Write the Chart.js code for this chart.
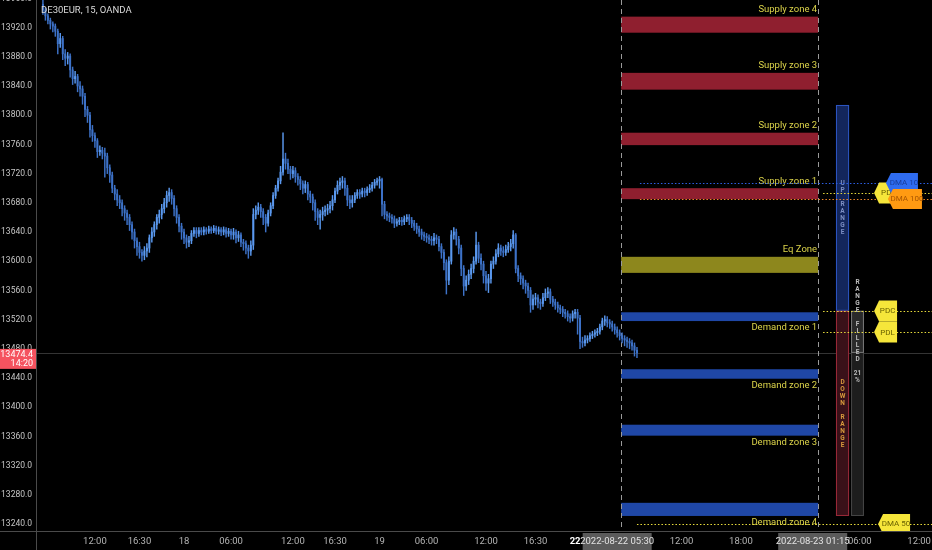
<!DOCTYPE html>
<html>
<head>
<meta charset="utf-8">
<script src="https://cdn.jsdelivr.net/npm/chart.js@4.4.1/dist/chart.umd.min.js"></script>
<style>
  html, body { margin: 0; padding: 0; background: #000; }
  #wrap { width: 932px; height: 550px; position: relative; }
</style>
</head>
<body>
<div id="wrap"><canvas id="chart"></canvas></div>
<script>
// DE30EUR 15m candles, bar index 0 = 2022-08-18 session open (01:15)
const firstBar = -57;

const opens = [
  13952,13944,13936,13930,13925,13922,13915,13898,13905,13884,
  13878,13881,13862,13850,13853,13840,13836,13826,13808,13800,
  13780,13772,13765,13750,13752,13748,13744,13728,13718,13700,
  13692,13684,13680,13672,13666,13660,13650,13640,13628,13620,
  13612,13608,13614,13618,13632,13640,13650,13660,13664,13672,
  13680,13690,13694,13686,13672,13660,13648,13640,13632,13626,
  13628,13638,13642,13638,13642,13640,13643,13641,13644,13642,
  13645,13641,13643,13640,13643,13638,13641,13636,13640,13632,
  13636,13626,13624,13618,13614,13622,13664,13670,13674,13668,
  13660,13652,13666,13676,13690,13700,13710,13722,13740,13734,
  13726,13720,13724,13716,13712,13706,13700,13705,13692,13688,
  13680,13668,13660,13664,13668,13670,13672,13676,13684,13696,
  13704,13708,13710,13700,13684,13680,13684,13690,13694,13692,
  13696,13694,13698,13700,13704,13708,13710,13712,13678,13664,
  13662,13660,13658,13652,13654,13656,13654,13658,13660,13656,
  13652,13648,13644,13640,13636,13634,13632,13630,13628,13632,
  13630,13620,13612,13598,13574,13600,13636,13640,13630,13618,
  13590,13566,13574,13582,13590,13600,13622,13604,13596,13580,
  13570,13576,13596,13600,13610,13618,13614,13612,13616,13620,
  13624,13636,13590,13580,13576,13570,13566,13560,13540,13548,
  13550,13544,13542,13550,13556,13558,13548,13544,13540,13536,
  13534,13530,13528,13524,13522,13528,13530,13522,13490,13488,
  13492,13494,13498,13500,13502,13504,13510,13518,13520,13516,
  13514,13510,13506,13502,13498,13494,13492,13490,13488,13484,
  13478
];
const highs = [
  13958,13947,13939,13933,13928,13925,13918,13912,13908,13890,
  13886,13884,13866,13860,13856,13846,13840,13830,13812,13804,
  13786,13776,13768,13758,13756,13755,13748,13732,13722,13704,
  13698,13690,13684,13676,13670,13664,13654,13644,13632,13626,
  13616,13620,13624,13636,13646,13654,13664,13670,13678,13686,
  13696,13700,13698,13690,13676,13664,13652,13644,13636,13634,
  13642,13646,13646,13646,13646,13647,13646,13648,13647,13649,
  13648,13647,13646,13647,13646,13645,13644,13645,13643,13641,
  13639,13630,13628,13622,13628,13672,13676,13680,13678,13672,
  13664,13670,13680,13694,13704,13714,13730,13776,13748,13740,
  13730,13730,13728,13720,13716,13710,13710,13708,13696,13692,
  13684,13672,13670,13674,13676,13678,13682,13690,13700,13710,
  13714,13716,13714,13704,13690,13690,13694,13698,13698,13700,
  13700,13702,13705,13708,13712,13714,13716,13714,13682,13668,
  13666,13664,13662,13658,13660,13660,13662,13664,13664,13660,
  13656,13652,13648,13644,13640,13638,13636,13634,13638,13636,
  13634,13624,13616,13602,13606,13642,13646,13644,13634,13622,
  13594,13580,13588,13596,13606,13640,13626,13610,13600,13586,
  13582,13600,13606,13616,13624,13622,13620,13622,13626,13630,
  13642,13638,13594,13584,13580,13574,13570,13564,13554,13556,
  13554,13548,13556,13562,13564,13562,13552,13548,13544,13540,
  13538,13534,13532,13528,13532,13534,13534,13526,13496,13498,
  13498,13502,13504,13506,13508,13514,13522,13525,13524,13520,
  13518,13514,13510,13506,13502,13498,13496,13494,13492,13488,
  13482
];
const lows = [
  13938,13930,13925,13918,13914,13908,13884,13893,13876,13868,
  13870,13852,13842,13844,13832,13826,13815,13798,13790,13770,
  13764,13756,13742,13745,13740,13715,13720,13708,13694,13684,
  13676,13672,13662,13656,13650,13642,13630,13618,13608,13604,
  13600,13602,13606,13612,13626,13634,13644,13652,13658,13666,
  13674,13682,13678,13662,13652,13640,13630,13624,13618,13620,
  13624,13634,13632,13634,13636,13636,13637,13638,13638,13639,
  13637,13637,13635,13636,13633,13634,13630,13630,13625,13627,
  13620,13615,13610,13604,13608,13616,13658,13664,13660,13650,
  13640,13648,13662,13672,13686,13696,13706,13718,13726,13720,
  13712,13714,13708,13704,13698,13692,13694,13684,13680,13670,
  13656,13650,13644,13656,13662,13664,13666,13670,13680,13692,
  13698,13700,13690,13676,13672,13674,13680,13686,13686,13688,
  13688,13690,13694,13696,13700,13704,13700,13662,13658,13656,
  13654,13652,13646,13648,13650,13649,13650,13654,13650,13646,
  13642,13638,13634,13630,13628,13626,13624,13622,13622,13624,
  13614,13604,13588,13555,13568,13596,13630,13622,13610,13580,
  13553,13560,13568,13576,13584,13596,13598,13588,13570,13560,
  13557,13570,13590,13596,13606,13608,13606,13608,13612,13614,
  13618,13584,13572,13568,13562,13556,13550,13530,13534,13540,
  13536,13534,13538,13546,13550,13542,13538,13534,13530,13528,
  13524,13522,13518,13516,13518,13522,13500,13480,13482,13484,
  13488,13490,13494,13496,13498,13500,13506,13512,13510,13508,
  13504,13500,13496,13492,13488,13484,13482,13480,13478,13470,
  13468
];
const closes = [
  13944,13936,13930,13925,13922,13915,13898,13905,13884,13878,
  13881,13862,13850,13853,13840,13836,13826,13808,13800,13780,
  13772,13765,13750,13752,13748,13744,13728,13718,13700,13692,
  13684,13680,13672,13666,13660,13650,13640,13628,13620,13612,
  13608,13614,13618,13632,13640,13650,13660,13664,13672,13680,
  13690,13694,13686,13672,13660,13648,13640,13632,13626,13628,
  13638,13642,13638,13642,13640,13643,13641,13644,13642,13645,
  13641,13643,13640,13643,13638,13641,13636,13640,13632,13636,
  13626,13624,13618,13614,13622,13664,13670,13674,13668,13660,
  13652,13666,13676,13690,13700,13710,13722,13740,13734,13726,
  13720,13724,13716,13712,13706,13700,13705,13692,13688,13680,
  13668,13660,13664,13668,13670,13672,13676,13684,13696,13704,
  13708,13710,13700,13684,13680,13684,13690,13694,13692,13696,
  13694,13698,13700,13704,13708,13710,13712,13678,13664,13662,
  13660,13658,13652,13654,13656,13654,13658,13660,13656,13652,
  13648,13644,13640,13636,13634,13632,13630,13628,13632,13630,
  13620,13612,13598,13574,13600,13636,13640,13630,13618,13590,
  13566,13574,13582,13590,13600,13622,13604,13596,13580,13570,
  13576,13596,13600,13610,13618,13614,13612,13616,13620,13624,
  13636,13590,13580,13576,13570,13566,13560,13540,13548,13550,
  13544,13542,13550,13556,13558,13548,13544,13540,13536,13534,
  13530,13528,13524,13522,13528,13530,13522,13490,13488,13492,
  13494,13498,13500,13502,13504,13510,13518,13520,13516,13514,
  13510,13506,13502,13498,13494,13492,13490,13488,13484,13478,
  13474.4
];
const lastPrice = 13474.4;
const countdown = '14:20';

// axes
const yTicks = [13240, 13280, 13320, 13360, 13400, 13440, 13480, 13520, 13560, 13600,
  13640, 13680, 13720, 13760, 13800, 13840, 13880, 13920, 13960];
const xTickBars = [-36, -18, 0, 19, 44, 61, 79, 98, 122, 142, 158, 201, 225, 273, 297];
const xTickLabels = ['12:00', '16:30', '18', '06:00', '12:00', '16:30', '19', '06:00', '12:00', '16:30', '22', '12:00', '18:00', '06:00', '12:00'];
const dateBars = [175, 254];
const dateLabels = ['2022-08-22 05:30', '2022-08-23 01:15'];

// supply / demand zones
const zoneNames = ['Supply zone 4', 'Supply zone 3', 'Supply zone 2', 'Supply zone 1', 'Eq Zone',
  'Demand zone 1', 'Demand zone 2', 'Demand zone 3', 'Demand zone 4'];
const zoneKinds = ['supply', 'supply', 'supply', 'supply', 'eq', 'demand', 'demand', 'demand', 'demand'];
const zoneTops = [13935, 13858, 13776, 13700, 13606, 13530, 13452, 13376, 13269];
const zoneBottoms = [13913, 13835, 13759, 13685, 13584, 13518, 13439, 13361, 13251];
const zoneFrom = 176.6, zoneTo = 256.2;

// reference levels
const levelNames = ['PDH', 'DMA 10', 'DMA 100', 'PDL', 'PDC', 'DMA 50'];
const levelValues = [13693.5, 13707.2, 13685.3, 13503.0, 13531.8, 13240.0];
const levelFrom = [258.2, 184.2, 184.2, 258.2, 258.2, 183];

// daily range
const rangeTop = 13814, rangeMid = 13532, rangeBottom = 13251;
const rangeFilledPct = 21;

// ---- styles / layout ----
const FONT = 'Roboto, "Liberation Sans", Arial, sans-serif';
const zoneStyle = { supply: '#8f1f2f', eq: '#8d871d', demand: '#1f47a6' };
const levelStyle = {
  'PDH': { line: '#e8dc3c', box: '#f6e63a', text: '#6a6200', tip: 278.8, w: 26 },
  'DMA 10': { line: '#2c5fe6', box: '#2f6cf0', text: '#173d9c', tip: 283.6, w: 32 },
  'DMA 100': { line: '#f0882c', box: '#ff9a12', text: '#a85500', tip: 284.4, w: 34 },
  'PDL': { line: '#e8dc3c', box: '#f6e63a', text: '#6a6200', tip: 278.8, w: 23 },
  'PDC': { line: '#e8dc3c', box: '#f6e63a', text: '#6a6200', tip: 278.8, w: 23 },
  'DMA 50': { line: '#e8dc3c', box: '#f6e63a', text: '#6a6200', tip: 280.4, w: 32 }
};
const rangeBarX = [263.4, 268.7];
const filledBarX = [269.5, 274.7];

const upColor = '#5a98ee';
const downColor = '#3d72c8';
const barColors = closes.map((c, k) => (c >= opens[k] ? upColor : downColor));

function tag(ctx, tipX, cy, w, h, fill, text, textColor) {
  ctx.beginPath();
  ctx.moveTo(tipX, cy);
  ctx.lineTo(tipX + 5, cy - h / 2);
  ctx.lineTo(tipX + w, cy - h / 2);
  ctx.lineTo(tipX + w, cy + h / 2);
  ctx.lineTo(tipX + 5, cy + h / 2);
  ctx.closePath();
  ctx.fillStyle = fill;
  ctx.fill();
  ctx.fillStyle = textColor;
  ctx.textAlign = 'center';
  ctx.textBaseline = 'middle';
  ctx.fillText(text, tipX + 4 + (w - 4) / 2, cy + 0.5);
}

function stackText(ctx, tokens, cx, cy, step) {
  let yy = cy - (tokens.length - 1) * step / 2;
  tokens.forEach((t) => { ctx.fillText(t, cx, yy); yy += step; });
}

const overlay = {
  id: 'overlay',
  beforeDatasetsDraw(chart) {
    const { ctx, chartArea: a, scales: { x, y } } = chart;
    ctx.save();
    ctx.beginPath();
    ctx.rect(a.left, a.top, a.right - a.left, a.bottom - a.top);
    ctx.clip();

    // last price line
    const yp = Math.round(y.getPixelForValue(lastPrice)) + 0.5;
    ctx.strokeStyle = 'rgba(150,150,150,0.35)';
    ctx.lineWidth = 1;
    ctx.beginPath(); ctx.moveTo(a.left, yp); ctx.lineTo(a.right, yp); ctx.stroke();

    // zones
    const x0 = x.getPixelForValue(zoneFrom), x1 = x.getPixelForValue(zoneTo);
    ctx.font = '9.5px ' + FONT;
    ctx.textAlign = 'right';
    zoneNames.forEach((name, k) => {
      const yt = y.getPixelForValue(zoneTops[k]);
      const yb = y.getPixelForValue(zoneBottoms[k]);
      ctx.fillStyle = zoneStyle[zoneKinds[k]];
      ctx.fillRect(x0, yt, x1 - x0, yb - yt);
      ctx.fillStyle = '#dcd44a';
      if (zoneKinds[k] === 'demand') {
        ctx.textBaseline = 'top';
        ctx.fillText(name, x1 - 1, yb + 2);
      } else {
        ctx.textBaseline = 'bottom';
        ctx.fillText(name, x1 - 1, yt - 2);
      }
    });

    // dashed session lines
    ctx.strokeStyle = '#9a9a9a';
    ctx.setLineDash([5, 4]);
    [x0, x1].forEach((xx) => {
      const px = Math.round(xx) + 0.5;
      ctx.beginPath(); ctx.moveTo(px, a.top); ctx.lineTo(px, a.bottom); ctx.stroke();
    });
    ctx.setLineDash([]);
    ctx.restore();
  },
  afterDatasetsDraw(chart) {
    const { ctx, chartArea: a, scales: { x, y } } = chart;
    ctx.save();
    ctx.beginPath();
    ctx.rect(a.left, a.top, a.right - a.left, a.bottom - a.top);
    ctx.clip();

    // range bars
    const rx0 = x.getPixelForValue(rangeBarX[0]), rx1 = x.getPixelForValue(rangeBarX[1]);
    const fx0 = x.getPixelForValue(filledBarX[0]), fx1 = x.getPixelForValue(filledBarX[1]);
    const yTop = y.getPixelForValue(rangeTop);
    const yMid = y.getPixelForValue(rangeMid);
    const yBot = y.getPixelForValue(rangeBottom);
    const yNow = y.getPixelForValue(lastPrice);
    ctx.lineWidth = 1;
    ctx.fillStyle = '#13265c'; ctx.strokeStyle = '#2d55c4';
    ctx.fillRect(rx0, yTop, rx1 - rx0, yMid - yTop);
    ctx.strokeRect(rx0 + 0.5, yTop + 0.5, rx1 - rx0 - 1, yMid - yTop - 1);
    ctx.fillStyle = '#3a1119'; ctx.strokeStyle = '#9c2a3a';
    ctx.fillRect(rx0, yMid, rx1 - rx0, yBot - yMid);
    ctx.strokeRect(rx0 + 0.5, yMid + 0.5, rx1 - rx0 - 1, yBot - yMid - 1);
    ctx.fillStyle = '#1d1d1d'; ctx.strokeStyle = '#474747';
    ctx.fillRect(fx0, yMid, fx1 - fx0, yBot - yMid);
    ctx.strokeRect(fx0 + 0.5, yMid + 0.5, fx1 - fx0 - 1, yBot - yMid - 1);
    ctx.fillStyle = '#2a2a2a'; ctx.strokeStyle = '#7a7a7a';
    ctx.fillRect(fx0, yMid, fx1 - fx0, yNow - yMid);
    ctx.strokeRect(fx0 + 0.5, yMid + 0.5, fx1 - fx0 - 1, yNow - yMid - 1);

    ctx.font = 'bold 6.5px ' + FONT;
    ctx.textAlign = 'center';
    ctx.textBaseline = 'middle';
    ctx.fillStyle = '#7d8fc4';
    stackText(ctx, 'UP RANGE'.split(''), (rx0 + rx1) / 2, (yTop + yMid) / 2, 7);
    ctx.fillStyle = '#d89a3c';
    stackText(ctx, 'DOWN RANGE'.split(''), (rx0 + rx1) / 2, (yMid + yBot) / 2, 7);
    ctx.fillStyle = '#bdbdbd';
    stackText(ctx, 'RANGE FILLED'.split('').concat([' ', String(rangeFilledPct), '%']),
      (fx0 + fx1) / 2, (yMid + yNow) / 2, 7);

    // level lines
    ctx.lineWidth = 1;
    ctx.setLineDash([1.5, 2]);
    levelNames.forEach((name, k) => {
      const st = levelStyle[name];
      const py = Math.round(y.getPixelForValue(levelValues[k])) + 0.5;
      ctx.strokeStyle = st.line;
      ctx.beginPath();
      ctx.moveTo(x.getPixelForValue(levelFrom[k]), py);
      ctx.lineTo(a.right, py);
      ctx.stroke();
    });
    ctx.setLineDash([]);

    // level tags
    ctx.font = '8px ' + FONT;
    levelNames.forEach((name, k) => {
      const st = levelStyle[name];
      const h = name.startsWith('PD') ? 21 : 20;
      tag(ctx, x.getPixelForValue(st.tip), y.getPixelForValue(levelValues[k]), st.w, h, st.box, name, st.text);
    });
    ctx.restore();
  },
  afterDraw(chart) {
    const { ctx, chartArea: a, scales: { x, y } } = chart;
    ctx.save();
    // axis lines
    ctx.strokeStyle = '#4a4a4a';
    ctx.lineWidth = 1;
    ctx.beginPath();
    ctx.moveTo(Math.round(a.left) + 0.5, 0); ctx.lineTo(Math.round(a.left) + 0.5, chart.height);
    ctx.moveTo(0, Math.round(a.bottom) + 0.5); ctx.lineTo(chart.width, Math.round(a.bottom) + 0.5);
    ctx.stroke();

    // title
    ctx.font = '9.5px ' + FONT;
    ctx.fillStyle = '#dadada';
    ctx.textAlign = 'left';
    ctx.textBaseline = 'middle';
    ctx.fillText('DE30EUR, 15, OANDA', a.left + 5, 11);

    // last price label
    const yp = y.getPixelForValue(lastPrice);
    ctx.fillStyle = '#f5535f';
    ctx.fillRect(0, yp - 4, a.left, 20);
    ctx.fillStyle = '#ffffff';
    ctx.font = '9px ' + FONT;
    ctx.textAlign = 'right';
    ctx.fillText(lastPrice.toFixed(1), a.left - 3, yp + 1.5);
    ctx.fillText(countdown, a.left - 3, yp + 11);

    // date boxes on time axis
    ctx.font = '9.5px ' + FONT;
    ctx.textAlign = 'center';
    dateBars.forEach((b, k) => {
      const cx = x.getPixelForValue(b);
      ctx.fillStyle = '#5b5b5b';
      ctx.fillRect(cx - 34.5, a.bottom + 2, 69, chart.height - a.bottom - 2);
      ctx.fillStyle = '#e2e2e2';
      ctx.fillText(dateLabels[k], cx, a.bottom + 10.5);
    });
    ctx.restore();
  }
};

const wickData = closes.map((c, k) => ({ x: firstBar + k, y: [lows[k], highs[k]] }));
const bodyData = closes.map((c, k) => ({ x: firstBar + k, y: [opens[k], c] }));

function noPad(s) {
  s.paddingTop = 0; s.paddingBottom = 0; s.paddingLeft = 0; s.paddingRight = 0;
}

new Chart(document.getElementById('chart'), {
  type: 'bar',
  data: {
    datasets: [
      { label: 'wick', data: wickData, backgroundColor: barColors, barThickness: 0.8, grouped: false, borderWidth: 0 },
      { label: 'body', data: bodyData, backgroundColor: barColors, barThickness: 1.3, grouped: false, borderWidth: 0 }
    ]
  },
  options: {
    responsive: true,
    maintainAspectRatio: false,
    animation: false,
    layout: { padding: 0 },
    plugins: { legend: { display: false }, tooltip: { enabled: false } },
    scales: {
      x: {
        type: 'linear',
        offset: false,
        min: -59.8,
        max: 302.2,
        grid: { display: false, drawTicks: false },
        border: { display: false },
        afterBuildTicks: (s) => { s.ticks = xTickBars.map((v) => ({ value: v })); },
        afterFit: (s) => { s.height = 19; noPad(s); },
        ticks: {
          autoSkip: false,
          maxRotation: 0,
          padding: 5,
          color: (c) => (xTickLabels[c.index] === '22' ? '#ffffff' : '#b4b4b4'),
          font: (c) => ({ family: FONT, size: 9.5, weight: xTickLabels[c.index] === '22' ? 'bold' : 'normal' }),
          callback: (v, i) => xTickLabels[i]
        }
      },
      y: {
        position: 'left',
        min: 13230.4,
        max: 13957.8,
        grid: { display: false, drawTicks: false },
        border: { display: false },
        afterBuildTicks: (s) => { s.ticks = yTicks.map((v) => ({ value: v })); },
        afterFit: (s) => { s.width = 36; noPad(s); },
        ticks: {
          padding: 4,
          color: '#c6c6c6',
          font: { family: FONT, size: 8.5 },
          callback: (v) => Number(v).toFixed(1)
        }
      }
    }
  },
  plugins: [overlay]
});
</script>
</body>
</html>
